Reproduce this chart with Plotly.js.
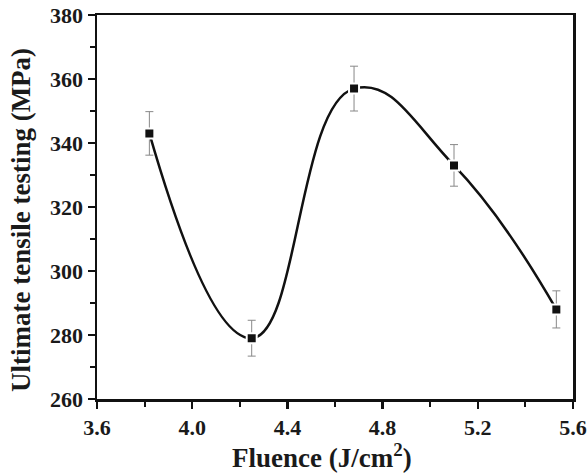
<!DOCTYPE html>
<html><head><meta charset="utf-8">
<script src="https://cdn.plot.ly/plotly-3.0.1.min.js"></script>
<style>html,body{margin:0;padding:0;background:#fff}#chart{width:587px;height:474px}</style>
</head><body><div id="chart"></div>
<script>
const fluence = [3.82, 4.25, 4.68, 5.10, 5.53];
const uts = [343, 279, 357, 333, 288];
const utsErr = [6.8, 5.6, 7.0, 6.5, 5.8];
const xTicks = [3.6, 4.0, 4.4, 4.8, 5.2, 5.6];
const yTicks = [260, 280, 300, 320, 340, 360, 380];
const xTitle = 'Fluence (J/cm<sup>2</sup>)';
const yTitle = 'Ultimate tensile testing (MPa)';

const FAM = 'Liberation Serif';
const INK = '#1a1a1a';
const traces = [
  {x: fluence, y: uts, mode: 'lines', line: {shape: 'spline', smoothing: 1.3, color: '#111', width: 2.5}, hoverinfo: 'skip', showlegend: false},
  {x: fluence, y: uts, mode: 'markers', marker: {symbol: 'square', size: 10, color: '#111', line: {color: '#fff', width: 2}},
   error_y: {type: 'data', array: utsErr, visible: true, color: '#888', thickness: 1, width: 4}, showlegend: false}
];
function axis(extra) {
  return Object.assign({showline: true, linecolor: '#111', linewidth: 2.5, mirror: true, ticks: 'outside', ticklen: 7, tickwidth: 2.5, tickcolor: '#111',
    showgrid: false, zeroline: false, tickmode: 'array', ticklabeloverflow: 'allow',
    tickfont: {family: FAM, size: 22, color: INK, weight: 'bold'}}, extra);
}
const layout = {
  width: 587, height: 474,
  font: {family: FAM, color: INK},
  margin: {l: 97, r: 14, t: 15, b: 75},
  paper_bgcolor: '#fff', plot_bgcolor: '#fff',
  xaxis: axis({range: [3.6, 5.6], tickvals: xTicks, ticktext: xTicks.map(v => v.toFixed(1)),
    minor: {dtick: 0.2, tick0: 3.6, ticks: 'outside', ticklen: 5, tickwidth: 2, tickcolor: '#111'}}),
  yaxis: axis({range: [260, 380], tickvals: yTicks, ticktext: yTicks.map(String),
    minor: {dtick: 10, tick0: 260, ticks: 'outside', ticklen: 5, tickwidth: 2, tickcolor: '#111'}}),
  annotations: [
    {text: xTitle, xref: 'paper', yref: 'paper', x: 0.4727, y: -0.148, xanchor: 'center', yanchor: 'middle', showarrow: false,
     font: {family: FAM, size: 27, color: INK, weight: 'bold'}},
    {text: yTitle, xref: 'paper', yref: 'paper', x: -0.1597, y: 0.466, xanchor: 'center', yanchor: 'middle', textangle: -90, showarrow: false,
     font: {family: FAM, size: 27, color: INK, weight: 'bold'}}
  ]
};
Plotly.newPlot('chart', traces, layout, {displayModeBar: false, staticPlot: true});
</script></body></html>
